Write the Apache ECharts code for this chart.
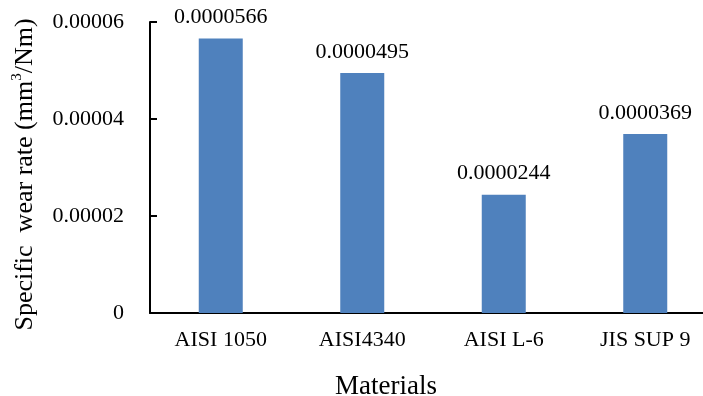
<!DOCTYPE html>
<html><head><meta charset="utf-8">
<script src="https://cdn.jsdelivr.net/npm/echarts@6/dist/echarts.min.js"></script>
<style>html,body{margin:0;padding:0;background:#fff}#c{width:703px;height:396px}</style>
</head><body><div id="c"></div>
<script>
const categories = ['AISI 1050', 'AISI4340', 'AISI L-6', 'JIS SUP 9'];
const wearRate = [0.0000566, 0.0000495, 0.0000244, 0.0000369];
const yTicks = [0, 0.00002, 0.00004, 0.00006];

const font = '"Liberation Serif", "Times New Roman", serif';
const chart = echarts.init(document.getElementById('c'), null, {renderer: 'canvas'});
chart.setOption({
  animation: false,
  grid: {left: 150, top: 22, bottom: 83, right: -13, containLabel: false, outerBoundsMode: 'none'},
  xAxis: {
    type: 'category',
    data: categories,
    axisLine: {lineStyle: {color: '#000', width: 2}},
    axisTick: {show: false},
    axisLabel: {color: '#000', fontFamily: font, fontSize: 22, margin: 16},
    name: 'Materials',
    nameLocation: 'middle',
    nameGap: 60,
    nameTextStyle: {color: '#000', fontFamily: font, fontSize: 27, padding: [0, 94, 0, 0]},
    splitLine: {show: false}
  },
  yAxis: {
    type: 'value',
    min: yTicks[0],
    max: yTicks[yTicks.length - 1],
    interval: yTicks[1] - yTicks[0],
    axisLine: {show: true, lineStyle: {color: '#000', width: 2}},
    axisTick: {show: true, inside: true, length: 7, lineStyle: {color: '#000', width: 2}},
    axisLabel: {color: '#000', fontFamily: font, fontSize: 22, margin: 26,
      formatter: v => v === 0 ? '0' : v.toFixed(5)},
    splitLine: {show: false},
    name: '{a|Specific  wear rate (mm}{s|3}{a|/Nm)}',
    nameLocation: 'middle',
    nameGap: 110,
    nameTextStyle: {
      color: '#000', fontFamily: font, fontSize: 26, padding: [0, 14, 0, 0],
      rich: {
        a: {fontFamily: font, fontSize: 26, color: '#000', lineHeight: 30},
        s: {fontFamily: font, fontSize: 15, color: '#000', lineHeight: 30, verticalAlign: 'top', padding: [0, 0, 10, 0]}
      }
    }
  },
  series: [{
    type: 'bar',
    data: wearRate,
    barWidth: 44,
    itemStyle: {color: '#4F81BD'},
    label: {show: true, position: 'top', distance: 10, color: '#000', fontFamily: font, fontSize: 22,
      formatter: p => p.value.toFixed(7)}
  }]
});
</script></body></html>
